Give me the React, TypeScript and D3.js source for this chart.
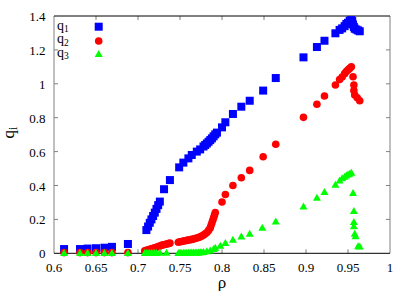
import React from "react";
import * as d3 from "d3";

const xTicks = [0.6, 0.65, 0.7, 0.75, 0.8, 0.85, 0.9, 0.95, 1];
const yTicks = [0, 0.2, 0.4, 0.6, 0.8, 1, 1.2, 1.4];

const rho1 = [0.612, 0.631, 0.640, 0.650, 0.660, 0.669, 0.688,
  0.710, 0.712, 0.714, 0.716, 0.718, 0.720, 0.722, 0.724, 0.726,
  0.731, 0.738, 0.749, 0.754, 0.760, 0.764, 0.770, 0.774, 0.778, 0.780, 0.782, 0.784, 0.786, 0.788, 0.790, 0.792, 0.794,
  0.800, 0.804, 0.813, 0.823, 0.833, 0.849, 0.864, 0.897, 0.913, 0.922, 0.935, 0.940, 0.943, 0.946, 0.948, 0.950, 0.952, 0.954,
  0.955, 0.956, 0.957, 0.958, 0.960, 0.962, 0.964];
const q1 = [0.025, 0.025, 0.028, 0.030, 0.033, 0.038, 0.055,
  0.137, 0.158, 0.18, 0.2, 0.22, 0.24, 0.262, 0.284, 0.305,
  0.378, 0.432, 0.507, 0.535, 0.56, 0.58, 0.60, 0.613, 0.63, 0.639, 0.648, 0.658, 0.668, 0.678, 0.69, 0.702, 0.712,
  0.743, 0.773, 0.822, 0.865, 0.90, 0.96, 1.034, 1.156, 1.217, 1.254, 1.298, 1.318, 1.327, 1.34, 1.353, 1.36, 1.372, 1.376,
  1.37, 1.35, 1.335, 1.325, 1.32, 1.315, 1.31];

const rho2 = [0.612, 0.631, 0.640, 0.650, 0.660, 0.669, 0.688,
  0.708, 0.710, 0.712, 0.714, 0.716, 0.718, 0.720, 0.722, 0.724, 0.726, 0.728, 0.730, 0.732, 0.734, 0.736, 0.738,
  0.748, 0.750, 0.752, 0.754, 0.756, 0.758, 0.760, 0.762, 0.764, 0.766, 0.768, 0.770, 0.772, 0.774, 0.776, 0.778, 0.780,
  0.782, 0.784, 0.786, 0.787, 0.788, 0.789, 0.790, 0.791, 0.792,
  0.800, 0.804, 0.813, 0.823, 0.833, 0.849, 0.864, 0.897, 0.913, 0.922, 0.935, 0.940, 0.943, 0.946, 0.948, 0.950, 0.952, 0.954,
  0.956, 0.957, 0.957, 0.958, 0.961, 0.964];
const q2 = [0.004, 0.004, 0.004, 0.004, 0.004, 0.004, 0.004,
  0.015, 0.018, 0.02, 0.024, 0.027, 0.03, 0.033, 0.036, 0.04, 0.043, 0.047, 0.05, 0.052, 0.055, 0.057, 0.06,
  0.065, 0.068, 0.07, 0.072, 0.074, 0.076, 0.078, 0.08, 0.082, 0.084, 0.087, 0.09, 0.093, 0.097, 0.102, 0.108, 0.115,
  0.123, 0.135, 0.15, 0.165, 0.18, 0.195, 0.21, 0.225, 0.24,
  0.303, 0.347, 0.40, 0.446, 0.489, 0.57, 0.643, 0.802, 0.879, 0.928, 0.993, 1.025, 1.04, 1.06, 1.072, 1.082, 1.091, 1.101,
  1.042, 0.993, 0.96, 0.934, 0.918, 0.90];

const rho3 = [0.612, 0.631, 0.640, 0.650, 0.660, 0.669, 0.688,
  0.708, 0.710, 0.712, 0.714, 0.716, 0.718, 0.720, 0.722, 0.726, 0.734,
  0.748, 0.750, 0.752, 0.754, 0.756, 0.758, 0.760, 0.762, 0.764, 0.766, 0.768, 0.770, 0.772, 0.774, 0.776,
  0.778, 0.782, 0.786, 0.790, 0.792, 0.798, 0.804, 0.813, 0.823, 0.833, 0.848, 0.864, 0.897, 0.913, 0.922, 0.935, 0.940,
  0.943, 0.946, 0.948, 0.950, 0.952, 0.954,
  0.956, 0.957, 0.957, 0.957, 0.958, 0.959, 0.962, 0.964];
const q3 = [0.004, 0.004, 0.004, 0.004, 0.004, 0.004, 0.004,
  0.004, 0.004, 0.004, 0.004, 0.004, 0.004, 0.004, 0.004, 0.006, 0.006,
  0.005, 0.005, 0.005, 0.006, 0.006, 0.006, 0.006, 0.007, 0.007, 0.007, 0.008, 0.008, 0.008, 0.009, 0.009,
  0.01, 0.015, 0.02, 0.028, 0.035, 0.047, 0.063, 0.083, 0.102, 0.118, 0.153, 0.19, 0.279, 0.33, 0.364, 0.407, 0.432,
  0.445, 0.455, 0.462, 0.468, 0.473, 0.478,
  0.358, 0.252, 0.187, 0.162, 0.118, 0.103, 0.045, 0.043];

const W = 415, H = 291;
const L = 54, R = 390, T = 16, B = 253.3;

export default function App() {
  const x = d3.scaleLinear().domain([0.6, 1]).range([L, R]);
  const y = d3.scaleLinear().domain([0, 1.4]).range([B, T]);
  const font = "'Liberation Serif', 'Times New Roman', Times, 'DejaVu Serif', serif";
  const grey = "#808080";
  const s = 8;
  const tri = (cx: number, cy: number) => {
    const h = 7;
    return `M${cx - 4},${cy + h / 2} L${cx + 4},${cy + h / 2} L${cx},${cy - h / 2} Z`;
  };
  const ts = { fontFamily: font };
  return (
    <svg width={W} height={H} style={{ position: "absolute", left: 0, top: 0, background: "#fff", fontFamily: font }}>
      <rect x={0} y={0} width={W} height={H} fill="#fff" />
      {xTicks.map((t, i) => (
        <g key={"xt" + i}>
          {i > 0 && i < xTicks.length - 1 && (
            <>
              <line x1={x(t)} x2={x(t)} y1={B} y2={B - 4} stroke={grey} />
              <line x1={x(t)} x2={x(t)} y1={T} y2={T + 4} stroke={grey} />
            </>
          )}
          <text x={x(t)} y={272} textAnchor="middle" fontSize={13} fill="#000" style={ts}>{String(t)}</text>
        </g>
      ))}
      {yTicks.map((t, i) => (
        <g key={"yt" + i}>
          {i > 0 && i < yTicks.length - 1 && (
            <>
              <line x1={L} x2={L + 4} y1={y(t)} y2={y(t)} stroke={grey} />
              <line x1={R} x2={R - 4} y1={y(t)} y2={y(t)} stroke={grey} />
            </>
          )}
          <text x={45.5} y={y(t) + 5} textAnchor="end" fontSize={13} fill="#000" style={ts}>{String(t)}</text>
        </g>
      ))}
      <line x1={L} x2={L} y1={T} y2={B} stroke={grey} />
      <line x1={R} x2={R} y1={T} y2={B} stroke={grey} />
      <line x1={L} x2={R} y1={T} y2={T} stroke="#000" />
      <line x1={L} x2={R} y1={B} y2={B} stroke="#000" />
      {rho1.map((r, i) => (
        <rect key={"b" + i} x={x(r) - s / 2} y={y(q1[i]) - s / 2} width={s} height={s} fill="#0000ff" />
      ))}
      {rho2.map((r, i) => (
        <circle key={"r" + i} cx={x(r)} cy={y(q2[i])} r={3.8} fill="#ff0000" />
      ))}
      {rho3.map((r, i) => (
        <path key={"g" + i} d={tri(x(r), y(q3[i]))} fill="#00ff00" />
      ))}
      <text x={57} y={29.5} fontSize={14} style={ts}>q<tspan fontSize={9.5} dy={2.5}>1</tspan></text>
      <text x={57} y={43} fontSize={14} style={ts}>q<tspan fontSize={9.5} dy={2.5}>2</tspan></text>
      <text x={57} y={56.5} fontSize={14} style={ts}>q<tspan fontSize={9.5} dy={2.5}>3</tspan></text>
      <rect x={98.7 - s / 2} y={26.7 - s / 2} width={s} height={s} fill="#0000ff" />
      <circle cx={98.7} cy={41} r={3.8} fill="#ff0000" />
      <path d={tri(98.7, 53.5)} fill="#00ff00" />
      <text x={222} y={287.5} textAnchor="middle" fontSize={17} style={ts}>ρ</text>
      <text transform="translate(13.5,138.5) rotate(-90)" textAnchor="start" fontSize={17} style={ts}>q<tspan fontSize={11.5} dy={3.5}>i</tspan></text>
    </svg>
  );
}
